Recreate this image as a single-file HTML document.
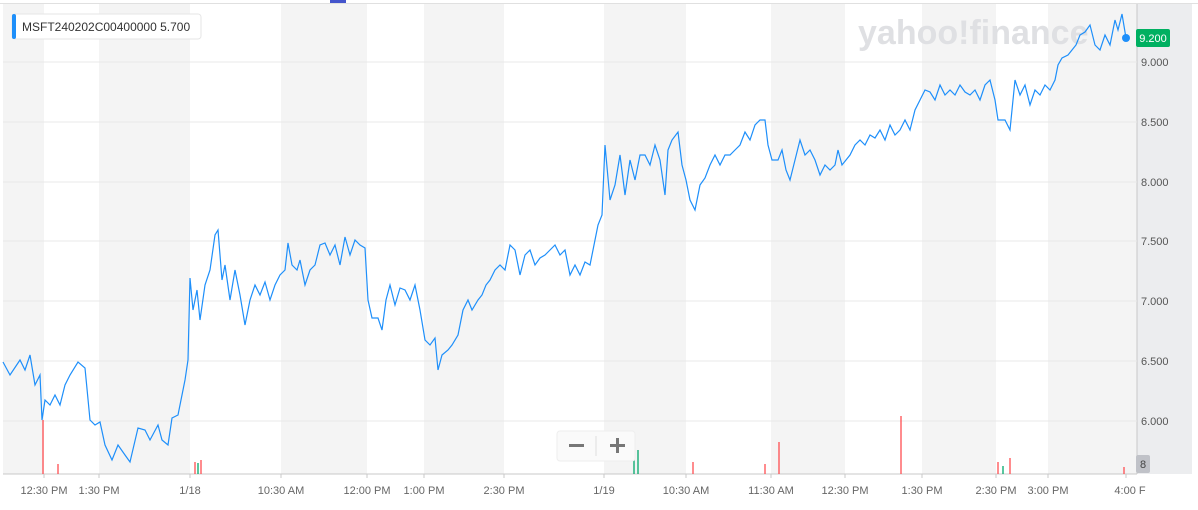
<!DOCTYPE html>
<html><head><meta charset="utf-8"><style>
body{margin:0;background:#fff;width:1198px;height:505px;overflow:hidden;font-family:"Liberation Sans",sans-serif}
</style></head><body>
<svg width="1198" height="505" xmlns="http://www.w3.org/2000/svg" font-family="Liberation Sans, sans-serif">
<rect x="0" y="3" width="1198" height="1" fill="#e0e0e0"/>
<rect x="330" y="0" width="16" height="3" fill="#4455cc"/>
<g fill="#f4f4f4">
<rect x="3" y="4" width="41" height="470"/><rect x="99" y="4" width="91" height="470"/>
<rect x="281" y="4" width="86" height="470"/><rect x="424" y="4" width="80" height="470"/>
<rect x="604" y="4" width="82" height="470"/><rect x="771" y="4" width="74" height="470"/>
<rect x="922" y="4" width="74" height="470"/><rect x="1048" y="4" width="89" height="470"/>
</g>
<rect x="1137" y="4" width="55" height="470" fill="#ecedef"/>
<line x1="1137" y1="4" x2="1137" y2="474" stroke="#c8c8c8"/>
<g stroke="#e8e8e8">
<line x1="3" y1="62" x2="1137" y2="62"/><line x1="3" y1="122" x2="1137" y2="122"/>
<line x1="3" y1="182" x2="1137" y2="182"/><line x1="3" y1="241" x2="1137" y2="241"/>
<line x1="3" y1="301" x2="1137" y2="301"/><line x1="3" y1="361" x2="1137" y2="361"/>
<line x1="3" y1="421" x2="1137" y2="421"/>
</g>
<text x="858" y="44" font-size="34" font-weight="bold" fill="#dfe0e3">yahoo!finance</text>
<line x1="3" y1="474" x2="1137" y2="474" stroke="#c8c8c8"/>
<g stroke-width="1.3">
<line x1="43" y1="474" x2="43" y2="420" stroke="#ff4d52"/>
<line x1="58" y1="474" x2="58" y2="464" stroke="#ff4d52"/>
<line x1="195" y1="474" x2="195" y2="462" stroke="#ff4d52"/>
<line x1="198" y1="474" x2="198" y2="463" stroke="#00a86b"/>
<line x1="201" y1="474" x2="201" y2="460" stroke="#ff4d52"/>
<line x1="634" y1="474" x2="634" y2="460" stroke="#00a86b"/>
<line x1="638" y1="474" x2="638" y2="450" stroke="#00a86b"/>
<line x1="693" y1="474" x2="693" y2="462" stroke="#ff4d52"/>
<line x1="779" y1="474" x2="779" y2="442" stroke="#ff4d52"/>
<line x1="765" y1="474" x2="765" y2="464" stroke="#ff4d52"/>
<line x1="901" y1="474" x2="901" y2="416" stroke="#ff4d52"/>
<line x1="998" y1="474" x2="998" y2="462" stroke="#ff4d52"/>
<line x1="1003" y1="474" x2="1003" y2="466" stroke="#00a86b"/>
<line x1="1010" y1="474" x2="1010" y2="458" stroke="#ff4d52"/>
<line x1="1124" y1="474" x2="1124" y2="467" stroke="#ff4d52"/>
</g>
<polyline fill="none" stroke="#1e8ffa" stroke-width="1.2" points="3,362 10,375 20,360 25,370 30,355 35,385 40,375 42,420 45,400 50,405 55,395 60,405 65,385 70,375 78,362 85,368 90,420 95,425 100,422 105,445 112,460 118,445 125,455 130,462 138,428 145,430 150,440 158,425 162,440 168,445 172,418 178,415 185,380 188,360 190,278 193,310 197,290 200,320 205,285 210,270 215,235 218,230 222,280 225,265 230,300 235,270 240,295 245,325 250,300 255,285 260,295 265,282 270,300 275,285 280,275 285,270 288,243 292,265 297,270 300,260 305,285 310,270 315,265 320,245 325,243 330,255 335,245 340,265 345,237 350,255 355,240 360,245 365,248 368,300 372,318 378,318 382,330 386,300 390,285 395,305 400,288 405,290 410,300 415,285 420,310 425,340 430,345 435,338 438,370 442,355 448,350 452,345 458,335 463,310 468,300 472,310 478,300 482,295 486,285 490,280 495,270 500,265 505,270 510,245 515,250 520,275 525,255 530,250 535,265 540,258 545,255 550,250 555,245 560,255 565,250 570,275 575,265 580,275 585,262 590,265 595,240 598,225 602,215 605,145 610,200 615,185 620,155 625,195 630,160 635,180 640,155 645,155 650,165 655,145 660,160 665,195 668,150 672,140 678,132 682,165 686,180 690,200 695,210 700,185 705,178 710,165 715,155 720,165 725,155 730,155 735,150 740,145 745,132 750,140 755,125 760,120 765,120 768,145 772,160 778,160 782,150 786,170 790,180 795,160 800,140 805,155 810,150 815,160 820,175 825,165 830,170 835,165 838,150 842,165 846,160 850,155 855,145 860,140 865,145 870,135 875,138 880,130 885,140 890,125 895,135 900,130 905,120 910,130 915,110 920,100 925,90 930,92 935,100 940,85 945,95 950,90 955,95 960,85 965,92 970,95 975,90 980,100 985,85 990,80 995,100 998,120 1005,120 1010,130 1015,80 1020,95 1025,85 1030,105 1035,90 1040,95 1045,85 1050,90 1055,80 1058,65 1062,58 1068,55 1072,50 1076,45 1080,35 1085,32 1090,25 1095,45 1100,50 1105,35 1110,45 1115,20 1118,30 1122,14 1126,38"/>
<circle cx="1126" cy="38" r="4" fill="#1e8ffa"/>
<rect x="1136" y="29" width="34" height="18" rx="2" fill="#00b061"/>
<text x="1153" y="42" font-size="11" fill="#fff" text-anchor="middle">9.200</text>
<g font-size="11" fill="#555" text-anchor="start">
<text x="1141" y="66">9.000</text><text x="1141" y="126">8.500</text><text x="1141" y="186">8.000</text>
<text x="1141" y="245">7.500</text><text x="1141" y="305">7.000</text><text x="1141" y="365">6.500</text>
<text x="1141" y="425">6.000</text>
</g>
<rect x="1136" y="455" width="14" height="18" rx="2" fill="#c0c2c8"/>
<text x="1143" y="468" font-size="11" fill="#444" text-anchor="middle">8</text>
<g font-size="11" fill="#666" text-anchor="middle">
<text x="44" y="494">12:30 PM</text><text x="99" y="494">1:30 PM</text><text x="190" y="494">1/18</text>
<text x="281" y="494">10:30 AM</text><text x="367" y="494">12:00 PM</text><text x="424" y="494">1:00 PM</text>
<text x="504" y="494">2:30 PM</text><text x="604" y="494">1/19</text><text x="686" y="494">10:30 AM</text>
<text x="771" y="494">11:30 AM</text><text x="845" y="494">12:30 PM</text><text x="922" y="494">1:30 PM</text>
<text x="996" y="494">2:30 PM</text><text x="1048" y="494">3:00 PM</text><text x="1130" y="494">4:00 F</text>
</g>
<g stroke="#c8c8c8"><line x1="44" y1="474" x2="44" y2="478"/><line x1="99" y1="474" x2="99" y2="478"/><line x1="190" y1="474" x2="190" y2="478"/><line x1="281" y1="474" x2="281" y2="478"/><line x1="367" y1="474" x2="367" y2="478"/><line x1="424" y1="474" x2="424" y2="478"/><line x1="504" y1="474" x2="504" y2="478"/><line x1="604" y1="474" x2="604" y2="478"/><line x1="686" y1="474" x2="686" y2="478"/><line x1="771" y1="474" x2="771" y2="478"/><line x1="845" y1="474" x2="845" y2="478"/><line x1="922" y1="474" x2="922" y2="478"/><line x1="996" y1="474" x2="996" y2="478"/><line x1="1048" y1="474" x2="1048" y2="478"/><line x1="1126" y1="474" x2="1126" y2="478"/></g>
<rect x="557" y="431" width="78" height="30" rx="3" fill="#fafafa" stroke="#eee"/>
<line x1="596" y1="436" x2="596" y2="456" stroke="#ddd"/>
<rect x="569" y="444" width="15" height="3" fill="#777"/>
<rect x="610" y="444" width="15" height="3" fill="#777"/><rect x="616" y="438" width="3" height="15" fill="#777"/>
<rect x="12" y="14" width="189" height="25" rx="3" fill="#fff" stroke="#e6e6e6"/>
<rect x="12" y="14" width="4" height="25" rx="2" fill="#1e8ffa"/>
<text x="22" y="31" font-size="12" fill="#333">MSFT240202C00400000  5.700</text>
</svg>
</body></html>
